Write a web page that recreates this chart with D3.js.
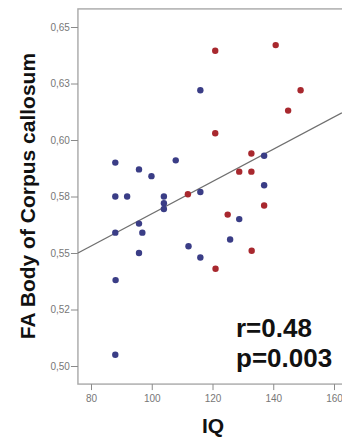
<!DOCTYPE html>
<html>
<head>
<meta charset="utf-8">
<script src="https://cdn.jsdelivr.net/npm/d3@7"></script>
<style>
    body { margin: 0; background: #fff; }
    text { font-family: "Liberation Sans", Arial, sans-serif; }
</style>
</head>
<body>
<svg id="chart" width="342" height="438"></svg>
<script>
// blue group
const blueIQ = [88, 95.8, 99.9, 88, 91.9, 104, 104, 104, 88, 95.8, 96.9, 95.8, 88.1, 88,
    107.9, 116, 116, 137, 137, 128.8, 125.8, 112.1, 116];
const blueFA = [0.590, 0.587, 0.584, 0.575, 0.575, 0.575, 0.572, 0.5695, 0.559, 0.563, 0.559, 0.550, 0.538, 0.505,
    0.591, 0.622, 0.577, 0.593, 0.580, 0.565, 0.556, 0.553, 0.548];

// red group
const redIQ = [120.9, 140.8, 149, 144.9, 120.9, 132.8, 128.8, 132.8, 111.9, 137, 125, 132.9, 121];
const redFA = [0.6395, 0.642, 0.622, 0.613, 0.603, 0.594, 0.586, 0.586, 0.576, 0.571, 0.567, 0.551, 0.543];

// fit line ends (IQ, FA)
const fitIQ = [75.7, 162.6];
const fitFA = [0.550, 0.612];

const xTicks = [80, 100, 120, 140, 160];
const yTicks = [0.50, 0.525, 0.55, 0.575, 0.60, 0.625, 0.65];
const yTickLabels = ["0,50", "0,52", "0,55", "0,58", "0,60", "0,63", "0,65"];

const statLines = ["r=0.48", "p=0.003"];

//------------------
// setup

const svg = d3.select("#chart");

const x = d3.scaleLinear().domain([80, 160]).range([91, 334]);
const y = d3.scaleLinear().domain([0.50, 0.65]).range([366, 27]);

// frame edges in data units
const xMin = 75.7, xMax = 168;
const yMin = 0.492, yMax = 0.658;

// plot frame
svg.append("rect")
    .attr("x", x(xMin))
    .attr("y", y(yMax))
    .attr("width", x(xMax) - x(xMin))
    .attr("height", y(yMin) - y(yMax))
    .attr("fill", "none")
    .attr("stroke", "#a8a8a8")
    .attr("stroke-width", 1.4);

// y axis
const yAxis = d3.axisLeft(y)
    .tickValues(yTicks)
    .tickFormat((d, i) => yTickLabels[i])
    .tickSize(7)
    .tickPadding(1)
    .tickSizeOuter(0);

svg.append("g")
    .attr("transform", `translate(${x(xMin)},0)`)
    .call(yAxis)
    .call(g => g.select(".domain").remove())
    .call(g => g.selectAll("line").attr("stroke", "#8a8a8a"))
    .call(g => g.selectAll("text")
        .attr("fill", "#777")
        .attr("font-size", "10px")
        .style("font-family", "'Liberation Sans', Arial, sans-serif"));

// x axis
const xAxis = d3.axisBottom(x)
    .tickValues(xTicks)
    .tickSize(6)
    .tickPadding(5)
    .tickSizeOuter(0);

svg.append("g")
    .attr("transform", `translate(0,${y(yMin)})`)
    .call(xAxis)
    .call(g => g.select(".domain").remove())
    .call(g => g.selectAll("line").attr("stroke", "#8a8a8a"))
    .call(g => g.selectAll("text")
        .attr("fill", "#777")
        .attr("font-size", "10px")
        .style("font-family", "'Liberation Sans', Arial, sans-serif"));

// regression line
svg.append("line")
    .attr("x1", x(fitIQ[0]))
    .attr("y1", y(fitFA[0]))
    .attr("x2", x(fitIQ[1]))
    .attr("y2", y(fitFA[1]))
    .attr("stroke", "#6f6f6f")
    .attr("stroke-width", 1.3);

// points
const blue = blueIQ.map((d, i) => ({ iq: d, fa: blueFA[i] }));
const red = redIQ.map((d, i) => ({ iq: d, fa: redFA[i] }));

svg.append("g").selectAll("circle")
    .data(blue)
    .join("circle")
    .attr("cx", d => x(d.iq))
    .attr("cy", d => y(d.fa))
    .attr("r", 3.2)
    .attr("fill", "#3a3d86");

svg.append("g").selectAll("circle")
    .data(red)
    .join("circle")
    .attr("cx", d => x(d.iq))
    .attr("cy", d => y(d.fa))
    .attr("r", 3.2)
    .attr("fill", "#a8282e");

// stats text
svg.append("g").selectAll("text")
    .data(statLines)
    .join("text")
    .attr("x", 236)
    .attr("y", (d, i) => 337 + i * 30)
    .attr("font-size", "26px")
    .attr("font-weight", "bold")
    .attr("fill", "#111")
    .text(d => d);

// axis titles
svg.append("text")
    .attr("x", 213)
    .attr("y", 433)
    .attr("text-anchor", "middle")
    .attr("font-size", "21px")
    .attr("font-weight", "bold")
    .attr("fill", "#111")
    .text("IQ");

svg.append("text")
    .attr("transform", "translate(35,196) rotate(-90)")
    .attr("text-anchor", "middle")
    .attr("font-size", "21px")
    .attr("font-weight", "bold")
    .attr("fill", "#111")
    .text("FA Body of Corpus callosum");
</script>
</body>
</html>
